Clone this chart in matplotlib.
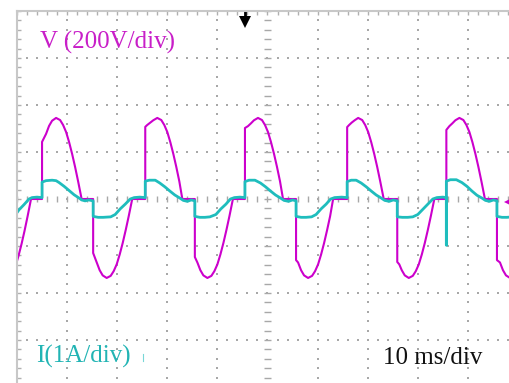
import matplotlib
matplotlib.use("Agg")
import matplotlib.pyplot as plt
import numpy as np

# ---- data (time in ms, voltage in V, current in A) ----
v_time = [0.0, 0.3, 0.9, 1.5, 2.1, 2.8,
          5.0, 5.0, 5.8, 6.4, 7.0, 7.8, 8.6, 9.2, 9.8, 10.4, 11.0, 11.6, 12.2, 12.9,
          15.2, 15.2, 15.9, 16.5, 17.1, 17.9, 18.7, 19.3, 19.9, 20.5, 21.1, 21.7, 22.3, 23.0,
          25.6, 25.6, 26.0, 26.6, 27.2, 28.0, 28.8, 29.4, 30.0, 30.6, 31.2, 31.8, 32.4, 33.0,
          35.5, 35.5, 36.0, 36.6, 37.2, 38.0, 38.8, 39.4, 40.0, 40.6, 41.2, 41.8, 42.4, 43.1,
          45.5, 45.5, 46.1, 46.7, 47.3, 48.1, 48.9, 49.5, 50.1, 50.7, 51.3, 51.9, 52.5, 53.1,
          55.7, 55.7, 56.1, 56.7, 57.3, 58.1, 58.9, 59.5, 60.1, 60.7, 61.3, 61.9, 62.5, 63.1,
          65.9, 65.9, 66.3, 66.8, 67.4, 68.1, 68.9, 69.5, 70.1, 70.7, 71.3, 71.9, 72.5, 73.2,
          75.9, 75.9, 76.3, 76.8, 77.4, 78.2, 79.0, 79.6, 80.2, 80.8, 81.4, 82.0, 82.6, 83.3,
          85.7, 85.7, 86.3, 86.9, 87.5, 88.3, 89.1, 89.7, 90.3, 90.9, 91.5, 92.1, 92.7, 93.4,
          95.8, 95.8, 96.4, 97.0, 97.6, 98.4, 99.2, 99.8, 100.4]
voltage = [-264, -242, -192, -136, -75, 0,
           0, 243, 277, 311, 333, 345, 336, 315, 285, 242, 192, 136, 75, 0,
           0, -230, -270, -303, -325, -336, -327, -307, -278, -236, -187, -132, -73, 0,
           0, 307, 315, 325, 335, 345, 336, 315, 285, 242, 192, 136, 75, 0,
           0, -247, -270, -303, -325, -336, -327, -307, -278, -236, -187, -132, -73, 0,
           0, 302, 310, 322, 335, 345, 336, 315, 285, 242, 192, 136, 75, 0,
           0, -260, -270, -303, -325, -336, -327, -307, -278, -236, -187, -132, -73, 0,
           0, 306, 315, 325, 335, 345, 336, 315, 285, 242, 192, 136, 75, 0,
           0, -268, -278, -303, -325, -336, -327, -307, -278, -236, -187, -132, -73, 0,
           0, 294, 310, 322, 335, 345, 336, 315, 285, 242, 192, 136, 75, 0,
           0, -260, -270, -303, -325, -336, -327, -307, -285]

i_time = [0.0, 0.4, 1.4, 2.4, 3.0, 4.0, 5.0,
          5.0, 5.8, 7.0, 7.8, 8.4, 9.4, 10.4, 11.4, 12.4, 12.9, 13.6, 14.3, 15.2,
          15.2, 16.2, 17.2, 18.7, 19.6, 20.6, 21.6, 22.6, 23.4, 24.5, 25.6,
          25.6, 26.4, 27.6, 28.5, 29.5, 30.5, 31.5, 32.5, 33.2, 34.0, 34.8, 35.5,
          35.5, 36.5, 37.5, 38.5, 39.7, 40.7, 41.7, 42.6, 43.4, 44.5, 45.5,
          45.5, 46.3, 47.5, 48.6, 49.6, 50.6, 51.6, 52.6, 53.3, 54.2, 55.0, 55.7,
          55.7, 56.7, 57.7, 58.8, 59.7, 60.7, 61.7, 62.6, 63.4, 64.8, 65.9,
          65.9, 66.7, 67.7, 68.7, 69.7, 70.7, 71.7, 72.7, 73.4, 74.3, 75.1, 75.9,
          75.9, 76.9, 78.0, 79.0, 80.0, 81.0, 82.0, 83.0, 83.8, 85.0, 85.7,
          85.7, 85.7, 86.5, 87.7, 88.8, 89.8, 90.8, 91.8, 92.8, 93.5, 94.3, 95.1, 95.8,
          95.8, 96.8, 97.8, 98.8, 100.0]
current = [-0.29, -0.23, -0.12, 0.0, 0.03, 0.04, 0.03,
           0.36, 0.39, 0.40, 0.39, 0.35, 0.27, 0.18, 0.09, 0.02, -0.02, -0.04, -0.02, -0.04,
           -0.37, -0.39, -0.39, -0.38, -0.33, -0.21, -0.11, 0.0, 0.03, 0.04, 0.03,
           0.38, 0.40, 0.40, 0.34, 0.26, 0.17, 0.085, 0.02, -0.03, -0.05, -0.02, -0.04,
           -0.37, -0.39, -0.39, -0.38, -0.33, -0.21, -0.11, 0.0, 0.03, 0.04, 0.03,
           0.37, 0.40, 0.40, 0.34, 0.26, 0.17, 0.085, 0.02, -0.03, -0.05, -0.02, -0.04,
           -0.37, -0.39, -0.39, -0.38, -0.33, -0.21, -0.11, 0.0, 0.03, 0.04, 0.03,
           0.37, 0.40, 0.40, 0.34, 0.26, 0.17, 0.085, 0.02, -0.03, -0.05, -0.02, -0.04,
           -0.38, -0.39, -0.39, -0.38, -0.33, -0.22, -0.11, 0.0, 0.03, 0.04, 0.03,
           -0.98, 0.38, 0.41, 0.41, 0.35, 0.27, 0.17, 0.08, 0.02, -0.03, -0.05, -0.02, -0.04,
           -0.37, -0.39, -0.39, -0.38, -0.35]

v_scale = 200.0   # V/div
i_scale = 1.0     # A/div

magenta = "#CC00CC"
cyan = "#1FBDBD"
grid_col = "#A8A8A8"

fig = plt.figure(figsize=(5.10, 3.83), dpi=100)
# screen area: 10 x 8 divisions, right and bottom edges run past the image
ax = fig.add_axes([17 / 510, -4 / 383, 501 / 510, 376 / 383])
ax.set_xlim(0, 100)
ax.set_ylim(-4, 4)

for side in ["right", "bottom"]:
    ax.spines[side].set_visible(False)
for side in ["top", "left"]:
    ax.spines[side].set_color("#C8C8C8")
    ax.spines[side].set_linewidth(1.5)

ax.set_xticks(np.arange(0, 101, 10))
ax.set_xticks(np.arange(0, 101, 2), minor=True)
ax.set_yticks(np.arange(-4, 5, 1))
ax.set_yticks(np.arange(-4, 4.01, 0.2), minor=True)
ax.tick_params(which="both", direction="in", top=True, left=True, bottom=False,
               right=False, labeltop=False, labelleft=False, labelbottom=False,
               length=3.2, width=1, color="#B0B0B0")

# dotted graticule
minor_x = np.arange(0, 101, 2)
minor_y = np.arange(-4, 4.01, 0.2)
for gx in range(10, 100, 10):
    if gx == 50:
        continue
    ax.plot(np.full_like(minor_y, gx), minor_y, ls="none", marker="s", ms=1.5,
            mew=0, color=grid_col)
for gy in [-3, -2, -1, 1, 2, 3]:
    ax.plot(minor_x, np.full_like(minor_x, gy, dtype=float), ls="none", marker="s",
            ms=1.5, mew=0, color=grid_col)

# centre axes with small tick dashes
ax.vlines(minor_x, -0.07, 0.07, color=grid_col, lw=1)
ax.hlines(minor_y, 49.4, 50.6, color=grid_col, lw=1)

# traces
ax.plot(v_time, np.array(voltage) / v_scale, color=magenta, lw=1.5)
ax.plot(i_time, np.array(current) / i_scale, color=cyan, lw=2.0)

# markers
ax.plot([45.6, 45.6], [3.98, 3.80], color="black", lw=2)
ax.plot(45.6, 3.76, marker="v", ms=8, color="black", mew=0)
ax.plot(98.0, -0.06, marker="<", ms=6, color=magenta, mew=0, clip_on=False)
ax.plot([25.2, 25.2], [-3.3, -3.45], color=cyan, lw=0.8, alpha=0.6)

# labels
serif = ["Liberation Serif", "DejaVu Serif"]
ax.text(4.6, 3.34, "V (200V/div)", color="#C81EC8", fontsize=18, family=serif,
        ha="left", va="center")
ax.text(3.8, -3.36, "I(1A/div)", color="#22B4B4", fontsize=18, family=serif,
        ha="left", va="center")
ax.text(73.1, -3.38, "10 ms/div", color="#111111", fontsize=18, family=serif,
        ha="left", va="center")

fig.savefig("out.png", dpi=100)
